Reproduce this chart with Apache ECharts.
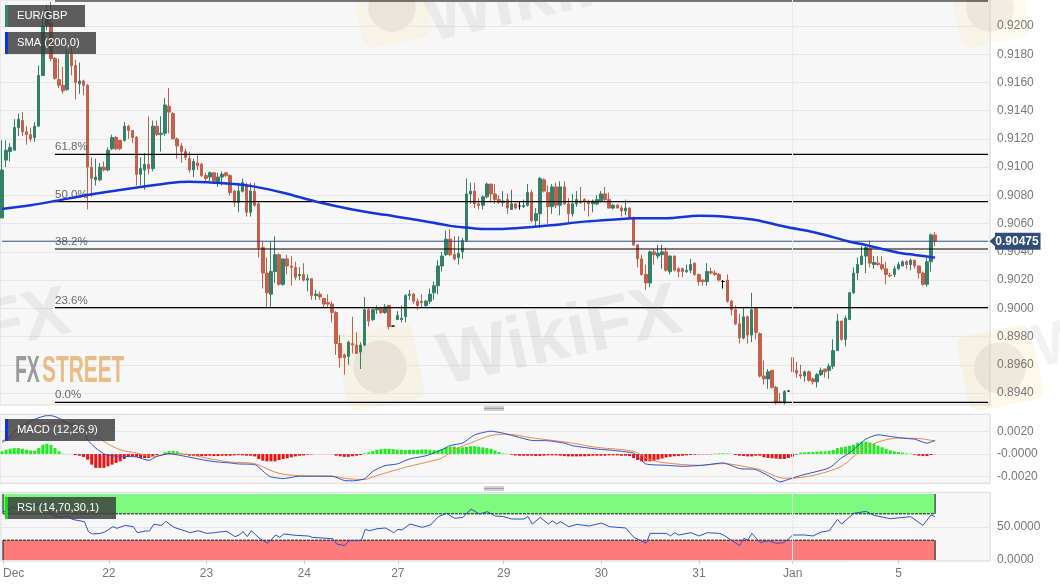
<!DOCTYPE html>
<html><head><meta charset="utf-8">
<style>html,body{margin:0;padding:0;background:#fff}#c{width:1060px;height:587px}</style>
<script src="https://cdn.jsdelivr.net/npm/echarts@6/dist/echarts.min.js"></script>
</head><body><div id="c"></div>
<script>
// prices are written in pips (price x 10000)
const opens=[9064,9105,9111,9112,9128,9133,9125,9123,9121,9129,
9165,9201,9202,9177,9162,9158,9155,9180,9172,9159,
9161,9158,9100,9091,9091,9100,9098,9113,9121,9119,
9119,9129,9126,9121,9095,9098,9102,9099,9129,9123,
9124,9143,9138,9120,9115,9111,9106,9098,9103,9102,
9094,9093,9096,9089,9093,9096,9094,9083,9075,9083,
9087,9068,9083,9074,9043,9025,9010,9026,9038,9017,
9035,9030,9029,9023,9024,9020,9021,9009,9010,9007,
9004,9003,8997,8975,8967,8966,8975,8974,8969,8974,
8999,8992,8999,9000,8997,9002,8987.4,8992,8992,8994,
9009,9010,9005,9005,9002,9005,9011,9016,9030,9038,
9049,9038,9036,9040,9048,9081,9083,9074,9073,9079,
9088,9081,9077,9075,9077,9070,9074,9072.5,9072,9073,
9082,9062,9067,9091,9082,9072,9086,9073,9086,9074,
9067,9074,9076,9077,9076,9074,9074,9076,9081,9077,
9071,9073,9071,9069,9071,9064,9045,9035,9024,9018,
9040,9037,9038,9040,9026,9037,9028,9028,9026,9027,
9032,9024,9020,9019,9026,9025,9024,9019,9020,9005,
8999,8989,8979,8994,8981,9000,8982,8952,8950,8956,
8944,8934,8933,8941.4,8965,8956,8953,8952,8955,8950,
8948,8953,8957,8956,8959,8970,8991,8978,8992,9011,
9025,9031,9037,9042,9031,9032,9031,9028,9023.5,9024,
9028,9030,9033,9031,9034,9030,9025,9017,9033,9052];
const closes=[9098,9112,9114,9128,9134,9125,9123,9120,9129,9165,
9200,9211,9177,9163,9158,9154,9180,9172,9160,9161,
9158,9100,9092,9093,9100,9098,9112,9121,9113,9113,
9129,9126,9121,9095,9099,9102,9099,9129,9123,9124,
9144,9139,9120,9115,9111,9107,9098,9104,9101,9094,
9092,9096,9090,9093,9095,9094,9082,9075,9083,9089,
9068,9083,9073,9043,9025,9011,9026,9038,9017,9035,
9030,9029,9022,9024,9020,9021,9009,9010,9008,9003,
9003,8997,8975,8965,8965,8976,8974,8968,8974,8999,
8991,8999,9000,8997,9001,8987,8987.4,8995,8993,9009,
9010,9005,9002,9004,9005,9010,9016,9030,9037,9049,
9038,9035,9039,9048,9081,9083,9074,9073,9079,9088,
9081,9077,9075,9076,9071,9074,9071,9072.5,9073,9082,
9062,9067,9092,9083,9072,9086,9073,9086,9074,9067,
9074,9077,9075,9076,9074,9076,9077,9081,9077,9071,
9073,9071,9069,9071,9064,9045,9035,9024,9018,9040,
9038,9039,9040,9027,9037,9027,9026,9026,9027,9031,
9024,9019,9019,9026,9025,9024,9020,9019,9005,8999,
8989,8979,8994,8981,8999,8983,8952,8950,8955,8944,
8933,8933,8941,8941.4,8955,8954,8952,8955,8949,8948,
8953,8956,8955,8959,8970,8991,8978,8993,9011,9025,
9031,9037,9043,9032,9032.5,9031,9028,9024,9023,9028,
9031,9033,9031,9034,9030,9025,9017,9033,9052,9047.5];
const lows=[9064,9100,9104,9112,9122,9122,9116,9118,9118,9129,
9165,9197,9175,9162,9156,9152,9154,9165,9148,9152,
9151,9070,9079,9087,9090,9097,9097,9112,9112,9112,
9118,9120,9117,9087,9087,9084,9095,9097,9122,9111,
9122,9124,9120,9106,9103,9105,9096,9093,9098,9093,
9090,9090,9089,9086,9087,9093,9080,9072,9068,9082,
9065,9065,9072,9036,9014,9001,9001,9018,9016,9016,
9024,9016,9020,9020,9019,9012,9006,9006,9006,9001,
9001,8990,8967,8958,8953,8960,8968,8968,8957,8973,
8987,8991,8996,8996,8996,8985,8987.4,8992,8990,8990,
9006,9003,8999,9001,9001,9003,9006,9010,9026,9037,
9037,9034,9031,9035,9047,9074,9071,9070,9070,9078,
9075,9074,9074,9072,9067,9070,9070,9070,9071,9072,
9061,9058,9057,9082,9060,9067,9071,9066,9073,9060,
9065,9072,9074,9069,9065,9068,9073,9075,9076,9071,
9070,9071,9065,9066,9064,9044,9029,9023,9013,9015,
9031,9035,9028,9026,9024,9026,9022,9022,9025,9025,
9023,9016,9016,9016,9024,9023,9019,9014,9004,8995,
8988,8975,8978,8975,8976,8978,8951,8946,8943,8943,
8932,8933,8932,8941.4,8952,8951,8950,8948,8948,8946,
8944,8952,8951,8950,8957,8970,8977,8973,8992,9010,
9020,9031,9025,9029,9028,9030,9027,9017,9022,9022,
9027,9030,9028,9027,9028,9021,9016,9015,9026,9044];
const highs=[9119,9119,9117,9134,9138,9139,9129,9128,9132,9172,
9207,9215,9217,9178,9177,9171,9183,9185,9176,9174,
9162,9159,9107,9106,9103,9104,9114,9123,9122,9119,
9132,9130,9126,9122,9107,9110,9136,9133,9133,9136,
9149,9156,9139,9121,9117,9113,9111,9106,9109,9103,
9096,9097,9096,9096,9097,9096,9095,9084,9089,9092,
9089,9089,9089,9076,9047,9036,9047,9051,9039,9035,
9038,9037,9033,9029,9032,9024,9021,9013,9012,9007,
9010,9005,8998,8981,8968,8977,8994,8983,8976,9008,
9000,9000,9002,9001,9003,9002,8987.4,8998,9002,9010,
9013,9011,9007,9010,9006,9014,9019,9034,9040,9055,
9056,9051,9051,9050,9092,9089,9089,9078,9080,9089,
9088,9088,9080,9083,9081,9084,9074.5,9076,9077,9088,
9084,9071,9093,9092,9087,9088,9089,9090,9090,9078,
9081,9083,9086,9078,9077,9077,9080,9083,9086,9082,
9074,9074,9073,9077,9071.5,9065,9045,9038,9031,9041,
9042,9045,9045,9043,9037.5,9037.5,9029,9029,9031,9035,
9032.5,9024.5,9020.5,9032,9029,9027,9025,9020,9024,9006,
9002,8996,9001,8995,9011,9001,8983,8963,8957,8956,
8945,8940,8942,8941.4,8965,8962,8960,8956,8956,8951,
8954,8958,8957,8961,8978,8996,8991,8995,9011.5,9029,
9036,9044,9044,9048,9037,9037,9037,9033,9025,9030,
9033,9034,9034,9035,9034.5,9030,9026,9036,9053,9054];
const smaBars=[0,7,13,21,34,43,46,57,62,69,78,86,94,102,110,114,118,122,126,134,143,151,155,163,171,175,179,185,192,200,208,212,216,220,224,229];
const smaPips=[9070.4,9073,9076,9080.3,9086,9089.3,9089.6,9088,9086.2,9081.8,9074.9,9070,9066.2,9062.6,9058.4,9057.2,9056.2,9056.2,9056.7,9058.6,9061.4,9063.1,9063.8,9063.8,9065.5,9065.3,9064.5,9062.6,9057.9,9053.4,9047.2,9044.9,9042,9039.4,9037.8,9035.9];
const histogram=[2.4,3.8,4.7,5.3,5.3,4.7,3.8,3.2,2.9,5.3,8.2,9.1,8.2,5.3,2.4,.3,.1,.1,-.9,-1.5,
-2.6,-5,-9.4,-12.3,-12.3,-12.3,-10.9,-9.4,-7.9,-6.5,-4.4,-2.6,-2.1,-2.6,-3.5,-3.5,-3.5,-2,-.9,0,
1.5,2.6,2.9,2.4,.9,-.6,-1.5,-1.8,-1.8,-1.8,-1.8,-1.5,-1.8,-1.8,-1.5,-1.5,-1.5,-1.2,-.9,-1.2,
-1.5,-1.5,-2.1,-4.4,-5.9,-6.5,-6.5,-6.5,-5.3,-4.4,-3.8,-2.9,-2.1,-1.5,-1.2,-.6,-.3,-.1,-.1,-.1,
-.1,-.1,-1.5,-2,-2.5,-2.5,-2,-1.5,-.9,.6,1.5,2.6,3.8,4.4,4.7,4.7,4.4,3.8,3.8,3.5,
3.8,3.8,3.8,4.1,4.1,3.8,3.5,3.5,4.7,5.9,6.5,6.5,5.9,5.9,6.5,7,7,6.5,5.9,5.3,
4.7,3.2,1.8,.6,.3,-.6,-1.2,-1.5,-1.5,-1.5,-1.5,-1.8,-1.8,-1.5,-1.2,-1.2,-1.2,-1.5,-1.8,-2.1,
-2.1,-2.1,-2,-2,-1.8,-1.5,-1.5,-1.5,-1.5,-1.2,-1.2,-1.2,-1.5,-1.5,-1.8,-3.5,-5.3,-6.5,-6.5,-6.5,
-6,-5,-4,-3,-2.5,-2,-1.8,-1.5,-1.2,-.9,-.6,-.3,-.2,-.3,-.3,.4,.6,.6,.4,.2,
-.9,-1.5,-1.8,-2.1,-2.1,-1.5,-1.5,-2.9,-3.5,-3.8,-4.1,-4.4,-4.4,-3.5,-2.4,-.5,1.2,1.5,1.8,1.8,
2.1,2.4,2.4,2.9,3.5,5.3,6,6.5,7.3,8.2,10,11,11,10.3,9.1,7.5,6,4.7,3.2,2.4,
1.8,1.2,.6,.3,-.6,-1.5,-1.8,-1.8,-.9,-.2];
const macdBars=[0,2,4,8,11,12,14,16,20,21,23,25,26,30,33,36,38,41,45,50,53,56,58,62,65,66,69,73,78,81,84,86,89,91,94,97,100,104,108,110,113,116,120,123,127,130,134,138,140,146,150,155,156,158,163,167,172,177,181,185,188,191,193,196,203,206,208,212,215,218,222,224,227,229];
const macdLine=[11.2,15.6,22.9,30.9,34.1,34.1,31.8,27.3,21.5,12.6,5.3,.3,-1.2,-2.1,-2.6,-5.6,-2.1,.3,-2.1,-5.6,-7.1,-7.9,-8.8,-9.4,-18.2,-20.3,-21.8,-19.7,-19.7,-19.7,-23.5,-23.8,-22,-15.3,-10.3,-8.8,-4.4,-1.5,3.8,7.6,9.7,17,20.3,18.5,14.7,12.1,11.8,9.7,7.4,4.4,3.2,.9,-2.1,-8.8,-10,-10.9,-10,-7.9,-12.9,-13.8,-19.1,-24.7,-22.6,-19.1,-12.3,-3.5,.9,13.2,17.1,15.6,13.8,13.2,9.7,12.1];
const signalBars=[0,4,8,12,16,20,25,29,33,37,41,45,50,56,62,66,69,74,81,85,89,91,95,99,104,108,111,116,120,124,130,134,140,146,155,159,163,171,177,184,186,192,195,200,206,211,216,220,225,229];
const signalLine=[10.3,17,25,27.9,27.9,24.4,11.2,3.8,.9,-2.1,0,0,-3.5,-7.1,-8.5,-14.7,-17.9,-19.4,-19.7,-22,-22.6,-20.3,-15.9,-11.8,-7.4,-3.5,3.8,11.2,16.5,17.6,14.4,12.6,9.7,5.9,2.4,-5,-7.9,-10,-8.5,-12.3,-13.8,-21.5,-21.2,-18.2,-10.9,3.8,11.8,14.1,13.8,11.5];
const rsiBars=[0,1,2,4,8,10,11,12,14,16,17,20,21,22,24,25,27,28,30,32,33,35,36,37,39,40,42,44,46,48,50,52,53,55,57,58,59,60,61,63,65,67,68,69,72,75,76,81,82,84,85,88,89,90,92,94,96,97,98,100,103,105,107,109,111,113,115,117,119,121,123,125,128,129,130,132,134,135,136,137,139,141,144,147,149,153,155,158,159,163,164,165,166,169,171,173,176,177,181,182,183,184,186,188,190,192,194,197,199,201,203,205,206,209,212,214,218,223,226,228,229];
const rsiLine=[73.2,74.2,79.8,78.3,83.3,85.9,78.3,68.2,64.6,66.7,61.6,58.1,42.9,39.4,40.4,42.4,50.5,48,52.5,50.5,41.4,43.9,43.9,54,52.5,58.6,49.5,45.5,41.4,44.4,40.4,41.4,42.4,43.4,35.4,37.9,42.9,35.4,44.4,32.8,25.3,37.9,34.3,39.4,37.4,36.4,34.3,32.3,24.2,21.7,29.3,29.3,46.5,44.4,47.5,48.5,41.4,46.5,45.5,54.5,49.5,53,65.7,70.7,63.1,64.6,77.3,69.7,73.2,66.7,65.7,62.1,62.1,65.7,54.5,64.6,54.5,59.6,54.5,58,50.5,54,51.5,56,50.5,48.5,34.3,25.3,40.4,40.4,36.4,41.4,37.9,41.4,36.4,41.4,40.4,37.9,21.7,32.8,30.3,40.4,26.3,29.3,25.3,26.3,37.9,37.9,36.4,42.4,44.4,61.6,54.5,70.7,73.7,67.7,62.6,65.7,52.5,68.2,65.7];
const fibLabels=['0.0%','23.6%','38.2%','50.0%','61.8%',''];
const fibRatios=[0,.236,.382,.5,.618,1];
const fibLow=.89334, fibHigh=.92177;
const lastPrice=0.90475;
const dayLabels={0:'Dec',26:'22',50:'23',74:'24',97:'27',123:'29',147:'30',171:'31',194:'Jan',220:'5'};
const priceTicks=[.894,.896,.898,.9,.902,.904,.906,.908,.91,.912,.914,.916,.918,.92];
const macdTicks=[-.002,0,.002];
const rsiTicks=[0,50];

const SLOTS=243, LAST=229;
const cats=Array.from({length:SLOTS},(_,i)=>dayLabels[i]||'');
const UP='#33806b', DOWN='#c75f4a';
const candles=opens.map((o,i)=>{
  const v=[o/1e4,closes[i]/1e4,lows[i]/1e4,highs[i]/1e4];
  if(o===closes[i]) return {value:v,itemStyle:{borderColor:'#000',borderColor0:'#000',color:'#000',color0:'#000',borderWidth:1}};
  return v;
});
const pairs=(xs,ys,k)=>xs.map((x,i)=>[x,ys[i]*k]);
const FONT='"Liberation Sans",Arial,sans-serif';
const axisCommon={axisLine:{show:false},axisTick:{length:4,lineStyle:{color:'#cfcfcf'}},
  splitLine:{show:true,lineStyle:{color:'#e6e6e6',width:1}},position:'right'};
const labelStyle={color:'#777',fontSize:12,fontFamily:FONT,margin:7};
const grids=[{top:0,height:405},{top:414.3,height:69},{top:492.3,height:68.7}]
  .map(g=>({...g,left:-1.37,width:991.44,show:true,backgroundColor:'#f7f7f7',borderColor:'#d6d9e4',borderWidth:1}));
const xAxes=[0,1,2].map(g=>({type:'category',gridIndex:g,data:cats,boundaryGap:true,show:g===2,
  axisLine:{show:false},
  axisTick:{show:g===2,alignWithLabel:true,length:4,interval:(i)=>!!dayLabels[i],lineStyle:{color:'#cfcfcf'}},
  axisLabel:{show:g===2,interval:(i)=>!!dayLabels[i],color:'#777',fontSize:12,margin:7,alignMinLabel:'left',fontFamily:FONT},
  splitLine:{show:false}}));
const yAxes=[
 {...axisCommon,type:'value',gridIndex:0,min:.89315,max:.92184,
  axisTick:{...axisCommon.axisTick,customValues:priceTicks},
  axisLabel:{...labelStyle,customValues:priceTicks,formatter:v=>v.toFixed(4)}},
 {...axisCommon,type:'value',gridIndex:1,min:-.0026,max:.00353,
  axisTick:{...axisCommon.axisTick,customValues:macdTicks},
  axisLabel:{...labelStyle,customValues:macdTicks,formatter:v=>Math.abs(v)<1e-9?'-0.0000':v.toFixed(4)}},
 {...axisCommon,type:'value',gridIndex:2,min:-1.5,max:102.6,
  axisTick:{...axisCommon.axisTick,customValues:rsiTicks},
  axisLabel:{...labelStyle,customValues:rsiTicks,formatter:v=>v.toFixed(4)}}
];
const janMark=()=>({silent:true,symbol:'none',animation:false,label:{show:false},lineStyle:{color:'#ebebeb',width:1,type:'solid'},data:[{xAxis:194}]});
const series=[];
series.push({type:'candlestick',xAxisIndex:0,yAxisIndex:0,data:candles,barWidth:3,z:3,
  itemStyle:{color:UP,color0:DOWN,borderColor:UP,borderColor0:DOWN,borderWidth:1}});
fibRatios.forEach((r,i)=>{const v=fibLow+(fibHigh-fibLow)*r;
  series.push({type:'line',xAxisIndex:0,yAxisIndex:0,data:[[13,v],[SLOTS-1,v]],showSymbol:false,z:4,
    lineStyle:{color:'#000',width:1.2},silent:true});});
series.push({type:'line',xAxisIndex:0,yAxisIndex:0,data:[],z:1,silent:true,markLine:janMark()});
series.push({type:'scatter',xAxisIndex:0,yAxisIndex:0,symbolSize:0,z:5,silent:true,
  data:fibRatios.map((r,i)=>({value:[13,fibLow+(fibHigh-fibLow)*r],name:fibLabels[i]})),
  label:{show:true,position:'top',distance:1,align:'left',color:'#444',fontSize:11.5,fontFamily:FONT,formatter:p=>p.name}});
series.push({type:'line',xAxisIndex:0,yAxisIndex:0,data:[[0,lastPrice],[SLOTS-1,lastPrice]],showSymbol:false,z:4,silent:true,
  lineStyle:{color:'#2f4f78',width:1},
  markPoint:{silent:true,animation:false,symbol:'path://M0 10 L6 4 L6 0 L56 0 L56 20 L6 20 L6 16 Z',symbolSize:[51,17],symbolOffset:[27,0],
    itemStyle:{color:'#2f4f78'},
    label:{show:true,color:'#fff',fontWeight:'bold',fontSize:12,fontFamily:FONT,formatter:'0.90475',offset:[2,0]},
    data:[{coord:[SLOTS-1,lastPrice]}]}});
series.push({type:'line',name:'SMA',xAxisIndex:0,yAxisIndex:0,data:pairs(smaBars,smaPips,1e-4),showSymbol:false,smooth:.3,z:6,
  lineStyle:{color:'#1338d6',width:2.5}});
// MACD panel
series.push({type:'bar',xAxisIndex:1,yAxisIndex:1,barWidth:3,z:2,silent:true,
  data:histogram.map(v=>({value:v*1e-4,itemStyle:{color:v>=0?'#1ced1c':'#ee1414'}})),
  markLine:janMark()});
series.push({type:'line',xAxisIndex:1,yAxisIndex:1,data:pairs(macdBars,macdLine,1e-4),showSymbol:false,smooth:.2,z:4,
  lineStyle:{color:'#2f50c8',width:1}});
series.push({type:'line',xAxisIndex:1,yAxisIndex:1,data:pairs(signalBars,signalLine,1e-4),showSymbol:false,smooth:.3,z:3,
  lineStyle:{color:'#e98a4e',width:1}});
// RSI panel
series.push({type:'line',xAxisIndex:2,yAxisIndex:2,data:pairs(rsiBars,rsiLine,1),showSymbol:false,z:4,
  lineStyle:{color:'#2f50c8',width:1},
  markLine:janMark(),
  markArea:{silent:true,animation:false,data:[
    [{xAxis:0,yAxis:100,itemStyle:{color:'#7dfb7d'}},{xAxis:LAST,yAxis:70}],
    [{xAxis:0,yAxis:30,itemStyle:{color:'#fd7b7b'}},{xAxis:LAST,yAxis:0}]]}});
[[[0,70],[LAST,70]],[[0,30],[LAST,30]]].forEach(d=>series.push({type:'line',xAxisIndex:2,yAxisIndex:2,data:d,showSymbol:false,z:3,silent:true,
  lineStyle:{color:'#111',width:1,type:[3,1]}}));
[[[LAST,100],[LAST,70]],[[LAST,30],[LAST,0]],[[0,100],[0,70]],[[0,30],[0,0]]].forEach(d=>series.push({type:'line',xAxisIndex:2,yAxisIndex:2,data:d,showSymbol:false,z:3,silent:true,
  lineStyle:{color:'#111',width:1}}));

const legend=(x,y,w,color,text)=>[
 {type:'rect',shape:{x,y,width:w,height:22},style:{fill:'rgba(58,58,58,.82)'},z:200},
 {type:'rect',shape:{x,y,width:3,height:22},style:{fill:color},z:201},
 {type:'text',x:x+12,y:y+11,style:{text,fill:'#fff',font:'11.2px '+FONT,textVerticalAlign:'middle'},z:201}];
const wm=(text,x,y,size,rot,op)=>({type:'text',x,y,rotation:rot,silent:true,z:150,
  style:{text,fill:'#8a8080',opacity:op,font:`bold ${size}px ${FONT}`,textVerticalAlign:'middle',textAlign:'center'}});
const logo=(cx,cy,s,rot,fill,op,disc)=>({type:'group',x:cx,y:cy,rotation:rot,silent:true,z:150,children:[
  {type:'rect',shape:{x:-s/2,y:-s/2,width:s,height:s,r:10},style:{fill,opacity:op}},
  {type:'circle',shape:{cx:0,cy:0,r:s*.34},style:{fill:'#8a8080',opacity:disc}}]});
const graphic=[
 logo(380,367,78,.2,'#f5dc90',.18,.13),logo(392,8,70,.2,'#f5dc90',.15,.12),logo(1000,368,76,.2,'#f5dc90',.2,.12),logo(990,8,70,.2,'#f5dc90',.15,.1),
 logo(880,560,70,.2,'#ffffff',.2,0),
 wm('WikiFX',560,338,74,.22,.13),wm('WikiFX',545,-5,74,.22,.1),wm('FX',25,322,70,.2,.12),wm('W',1062,345,60,.2,.1),
 {type:'text',x:15,y:372,scaleX:.54,silent:true,z:150,style:{text:'FX',fill:'#9b9b9b',font:'bold 36px '+FONT,textVerticalAlign:'middle'}},
 {type:'text',x:42,y:372,scaleX:.58,silent:true,z:150,style:{text:'STREET',fill:'#e9bb85',font:'bold 36px '+FONT,textVerticalAlign:'middle'}},
 ...legend(5,5,80,'#2e8a70','EUR/GBP'),...legend(5,32,91,'#0a33e6','SMA (200,0)'),
 ...legend(5,419,110,'#0a33e6','MACD (12,26,9)'),...legend(5,497,111,'#12e012','RSI (14,70,30,1)'),
 ...[407,408.5,410,487,488.5,490].map(y=>({type:'line',silent:true,shape:{x1:484,y1:y,x2:504,y2:y},style:{stroke:'#888',lineWidth:.8}}))
];
const chart=echarts.init(document.getElementById('c'),null,{renderer:'canvas'});
chart.setOption({animation:false,backgroundColor:'#fff',grid:grids,xAxis:xAxes,yAxis:yAxes,series,graphic,tooltip:{show:false},legend:{show:false}});
</script></body></html>
